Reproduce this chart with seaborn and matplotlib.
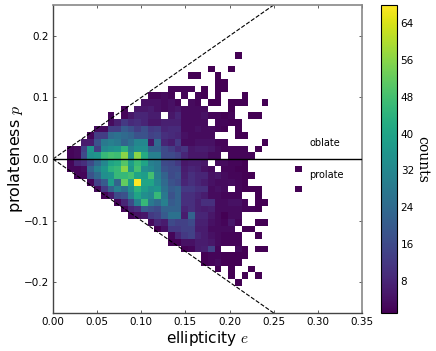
import numpy as np
import pandas as pd
import matplotlib
matplotlib.use("Agg")
import matplotlib.pyplot as plt
import seaborn as sns

sns.set_style("ticks")
plt.rcParams["font.family"] = ["DejaVu Sans"]
plt.rcParams["mathtext.fontset"] = "cm"
plt.rcParams["xtick.direction"] = "in"
plt.rcParams["ytick.direction"] = "in"
plt.rcParams["text.color"] = "k"
plt.rcParams["axes.labelcolor"] = "k"
plt.rcParams["xtick.labelcolor"] = "k"
plt.rcParams["ytick.labelcolor"] = "k"

# counts per cell, columns from e=0.016 up, top row first
# trailing empty columns are left out
rows_above = [
    [0]*25 + [1],  # p 0.162-0.173
    [],
    [0]*21 + [1, 0, 0, 1],
    [0]*18 + [1, 1, 0, 0, 1],
    [0]*22 + [1, 1],
    [0]*15 + [2, 2, 2, 2, 0, 1, 0, 1, 1],
    [0]*12 + [2, 2, 3, 2, 0, 2, 0, 2, 1, 0, 1, 0, 0, 0, 1],
    [0]*11 + [4, 4, 4, 3, 4, 2, 0, 3, 2, 0, 1, 1, 0, 1, 1, 1, 0, 0, 1],
    [0]*8 + [2, 0, 5, 5, 6, 4, 3, 4, 5, 3, 3, 3, 3, 0, 0, 0, 1],
    [0]*6 + [2, 0, 2, 5, 8, 8, 6, 6, 0, 5, 8, 3, 3, 3, 4, 2, 2, 1, 2, 0, 0, 1, 1],
    [0]*6 + [3, 7, 12, 9, 10, 8, 5, 5, 7, 7, 7, 3, 3, 3, 3, 0, 2, 2, 1, 1],
    [0]*4 + [3, 3, 13, 13, 20, 17, 13, 17, 12, 13, 8, 9, 9, 3, 3, 4, 3, 3, 2, 1, 0, 1],
    [0]*3 + [2, 13, 13, 24, 26, 24, 22, 18, 18, 14, 15, 10, 9, 8, 4, 3, 3, 3, 3, 0, 0, 0, 1, 1],
    [0, 0, 6, 6, 18, 28, 30, 28, 22, 26, 32, 32, 5, 24, 8, 6, 12, 3, 3, 4, 4, 4, 2, 2, 0, 0, 0, 0, 0, 1],
    [2, 3, 14, 36, 13, 32, 34, 36, 44, 30, 34, 34, 22, 22, 16, 13, 9, 11, 5, 6, 6, 5, 3, 2, 2, 2, 2, 0, 1],
    [2, 3, 16, 34, 36, 46, 48, 47, 56, 34, 56, 42, 30, 30, 16, 16, 14, 8, 5, 5, 5, 3, 3, 0, 2, 2, 2, 2],
]
rows_below = [
    [2, 8, 10, 16, 24, 32, 40, 42, 50, 38, 46, 40, 30, 28, 16, 15, 12, 5, 6, 6, 5, 0, 3, 3, 2, 2, 1],
    [2, 2, 3, 22, 30, 36, 44, 46, 56, 36, 48, 34, 32, 28, 18, 16, 16, 6, 8, 7, 4, 3, 0, 2, 2, 1, 1, 0, 0, 0, 0, 0, 0, 0, 1],
    [0, 2, 2, 18, 24, 34, 36, 46, 46, 48, 40, 38, 48, 30, 22, 16, 18, 7, 10, 8, 8, 4, 5, 3, 2, 2, 1, 1],
    [0, 0, 0, 2, 14, 20, 38, 22, 52, 38, 68, 40, 40, 32, 24, 18, 16, 8, 10, 8, 6, 4, 3, 3, 3, 2, 1],
    [0, 0, 0, 0, 3, 12, 22, 30, 26, 34, 44, 38, 34, 36, 26, 20, 22, 12, 12, 10, 10, 3, 4, 3, 0, 2, 1, 1, 1, 0, 0, 0, 0, 0, 1],
    [0]*5 + [2, 6, 16, 18, 30, 40, 34, 32, 46, 28, 18, 22, 10, 10, 8, 6, 3, 3, 2, 2, 2, 0, 0, 1],
    [0]*7 + [2, 8, 16, 30, 46, 28, 24, 30, 20, 22, 10, 10, 7, 10, 10, 3, 3, 4, 4, 2, 0, 1, 1],
    [0]*8 + [2, 8, 10, 20, 18, 16, 22, 22, 22, 8, 10, 7, 6, 7, 3, 3, 3, 3, 2, 2, 1],
    [0]*9 + [2, 4, 5, 12, 14, 20, 26, 26, 6, 22, 8, 8, 5, 3, 1, 3, 3],
    [0]*12 + [3, 8, 6, 16, 14, 14, 16, 7, 7, 4, 3, 2, 5, 2, 0, 0, 1, 1],
    [0]*13 + [1, 4, 12, 12, 14, 14, 6, 6, 3, 3, 3, 3, 0, 1, 1],
    [0]*15 + [2, 8, 12, 14, 8, 6, 4, 3, 2, 2, 2, 0, 0, 1],
    [0]*15 + [1, 1, 4, 4, 6, 6, 5, 3, 2, 2, 2],
    [0]*17 + [1, 2, 6, 7, 14, 2, 0, 0, 3, 1, 0, 1, 1],
    [0]*20 + [1, 2, 2, 1, 1, 1, 1],
    [0]*20 + [1, 2, 3, 1, 1, 1],
    [0]*22 + [1, 0, 1, 0, 0, 1],
    [0]*24 + [1, 0, 1, 0, 1],
    [0]*25 + [1],
]

xticks = [0.00, 0.05, 0.10, 0.15, 0.20, 0.25, 0.30, 0.35]
yticks = [-0.2, -0.1, 0.0, 0.1, 0.2]
cbar_ticks = [8, 16, 24, 32, 40, 48, 56, 64]

e_start, e_step = 0.0162, 0.00759
p_step = 0.01083
n_cols = 35

all_rows = rows_above + rows_below
e_edges = e_start + e_step * np.arange(n_cols + 1)
p_edges = p_step * np.arange(len(rows_above), -len(rows_below) - 1, -1)[::-1]

records = []
for i, row in enumerate(all_rows):
    p_mid = p_step * (len(rows_above) - i - 0.5)
    for j, c in enumerate(row):
        if c > 0:
            records.append((e_start + e_step * (j + 0.5), p_mid, c))
df = pd.DataFrame(records, columns=["e", "p", "counts"])

fig = plt.figure(figsize=(4.36, 3.51), dpi=100)
ax = fig.add_axes([53 / 436, 1 - 313 / 351, 309 / 436, 308 / 351])
cax = fig.add_axes([381 / 436, 1 - 313 / 351, 15.5 / 436, 308 / 351])

sns.histplot(data=df, x="e", y="p", weights="counts", bins=[e_edges, p_edges],
             cmap="viridis", vmin=1, vmax=68, cbar=True, cbar_ax=cax,
             cbar_kws={"ticks": cbar_ticks}, ax=ax, zorder=1)

ax.plot([0, 0.35], [0, 0.35], "k--", lw=0.8, zorder=2)
ax.plot([0, 0.35], [0, -0.35], "k--", lw=0.8, zorder=2)
ax.axhline(0, color="k", lw=1, zorder=3)

ax.text(0.291, 0.026, "oblate", fontsize=7, va="center")
ax.text(0.290, -0.026, "prolate", fontsize=7, va="center")

ax.set_xlim(0, 0.35)
ax.set_ylim(-0.25, 0.25)
ax.set_xticks(xticks)
ax.set_yticks(yticks)
ax.set_xticklabels(["%.2f" % v for v in xticks])
ax.set_yticklabels([("%.1f" % v).replace("-", "\u2212") for v in yticks])
ax.tick_params(labelsize=7.5, length=2.5, width=0.6, top=True, right=True, color="#444444", pad=3)
ax.set_xlabel("ellipticity $e$", fontsize=11, labelpad=1)
ax.set_ylabel("prolateness $p$", fontsize=11.5, labelpad=-1)

for side in ["left", "bottom"]:
    ax.spines[side].set_color("#444444")
    ax.spines[side].set_linewidth(1)
for side in ["top", "right"]:
    ax.spines[side].set_color("#888888")
    ax.spines[side].set_linewidth(1.2)

cax.tick_params(labelsize=7.5, length=2.5, width=0.6, direction="in", pad=3, color="k")
for s in cax.spines.values():
    s.set_color("k")
    s.set_linewidth(0.8)
cax.set_ylabel("counts", rotation=270, fontsize=10, family="DejaVu Serif", labelpad=11)

fig.savefig("out.png", dpi=100)
